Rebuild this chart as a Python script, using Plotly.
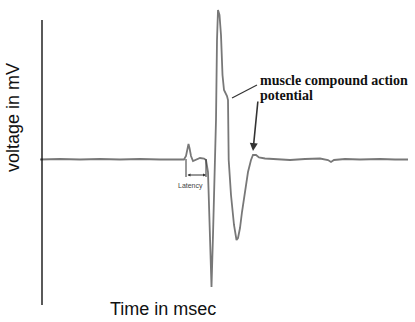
import plotly.graph_objects as go

# Waveform: time (msec) and voltage (mV, relative to baseline)
time_ms = [-0.2, 1.8, 3.8, 5.8, 7.8, 9.8, 11.8, 13.6, 14.2, 14.4, 14.55, 14.65, 14.75, 14.9,
           15.1, 15.4, 15.8, 16.2, 16.4, 16.6, 16.8, 16.95, 17.1, 17.3, 17.4, 17.5, 17.6,
           17.75, 17.9, 18.05, 18.2, 18.5, 18.6, 18.67, 18.9, 19.2, 19.45, 19.6, 19.8, 20.0,
           20.3, 20.6, 20.9, 21.1, 21.4, 21.7, 22.3, 23.3, 24.8, 26.3, 27.8, 28.6, 28.9,
           29.2, 30.3, 31.8, 33.8, 35.3, 36.6]
voltage_mv = [-0.05, 0, -0.05, 0, -0.05, 0, -0.05, 0, -0.05, 0.3, 1.3, 1.5, 1.1, 0.3,
              -0.2, -0.05, 0.1, 0.05, -0.1, -1.3, -8.1, -12.8, -7.6, -1.1, 3.9, 11.9, 14.9,
              14.4, 12.4, 8.4, 6.9, 6.3, 5.9, -0.1, -3.6, -6.6, -8.1, -7.9, -6.9, -5.3,
              -3.1, -1.3, -0.1, 0.4, 0.4, 0.15, 0.05, 0, -0.1, 0, 0.05, -0.1, -0.3,
              -0.1, 0, -0.05, 0, -0.05, -0.05]

x_title = "Time in msec"
y_title = "voltage in mV"
label_line1 = "muscle compound action"
label_line2 = "potential"
latency_label = "Latency"

fig = go.Figure()
fig.add_trace(go.Scatter(x=time_ms, y=voltage_mv, mode="lines",
                         line=dict(color="#787878", width=1.8), hoverinfo="skip",
                         showlegend=False))

# y axis line
fig.add_shape(type="line", xref="x", yref="y", x0=0, x1=0, y0=13.9, y1=-14.6,
              line=dict(color="black", width=1.3))
# pointer line to label
fig.add_shape(type="line", xref="x", yref="y", x0=21.5, y0=7.4, x1=19.0, y1=6.1,
              line=dict(color="#333", width=1.2))
# latency ticks
for tx in (14.4, 16.4):
    fig.add_shape(type="line", xref="x", yref="y", x0=tx, x1=tx, y0=0, y1=-1.8,
                  line=dict(color="#333", width=1))

serif = "Liberation Serif"
anns = [
    dict(xref="x", yref="y", x=21.6, y=7.9, text="<b>" + label_line1 + "</b>",
         xanchor="left", yanchor="middle", font=dict(family=serif, size=14, color="#111")),
    dict(xref="x", yref="y", x=21.6, y=6.4, text="<b>" + label_line2 + "</b>",
         xanchor="left", yanchor="middle", font=dict(family=serif, size=14, color="#111")),
    dict(xref="x", yref="y", x=14.8, y=-2.7, text=latency_label, xanchor="center",
         yanchor="middle", font=dict(family="Liberation Sans", size=7, color="#444")),
    dict(xref="paper", yref="paper", x=-0.0697, y=0.623, text=y_title, textangle=-90,
         xanchor="center", yanchor="middle",
         font=dict(family="Liberation Sans", size=18, color="#111")),
    dict(xref="paper", yref="paper", x=0.332, y=-0.0133, text=x_title, xanchor="center",
         yanchor="middle", font=dict(family="Liberation Sans", size=18, color="#111")),
]
for a in anns:
    fig.add_annotation(showarrow=False, **a)

# arrow to end of potential
fig.add_annotation(xref="x", yref="y", axref="x", ayref="y", x=21.1, y=0.8, ax=21.6, ay=5.9,
                   text="", showarrow=True, arrowhead=2, arrowsize=1, arrowwidth=1.6,
                   arrowcolor="#333")
# latency double arrow
fig.add_annotation(xref="x", yref="y", axref="x", ayref="y", x=16.4, y=-1.6, ax=14.4, ay=-1.6,
                   text="", showarrow=True, arrowhead=2, arrowsize=0.6, arrowwidth=1,
                   arrowside="end+start", arrowcolor="#333", standoff=0, startstandoff=0)

fig.update_layout(
    width=415, height=322,
    margin=dict(l=39, r=3, t=5, b=17),
    paper_bgcolor="white", plot_bgcolor="white",
    xaxis=dict(range=[-0.3, 37.0], visible=False, fixedrange=True),
    yaxis=dict(range=[-14.6, 15.4], visible=False, fixedrange=True),
)

fig.write_html("out.html")
